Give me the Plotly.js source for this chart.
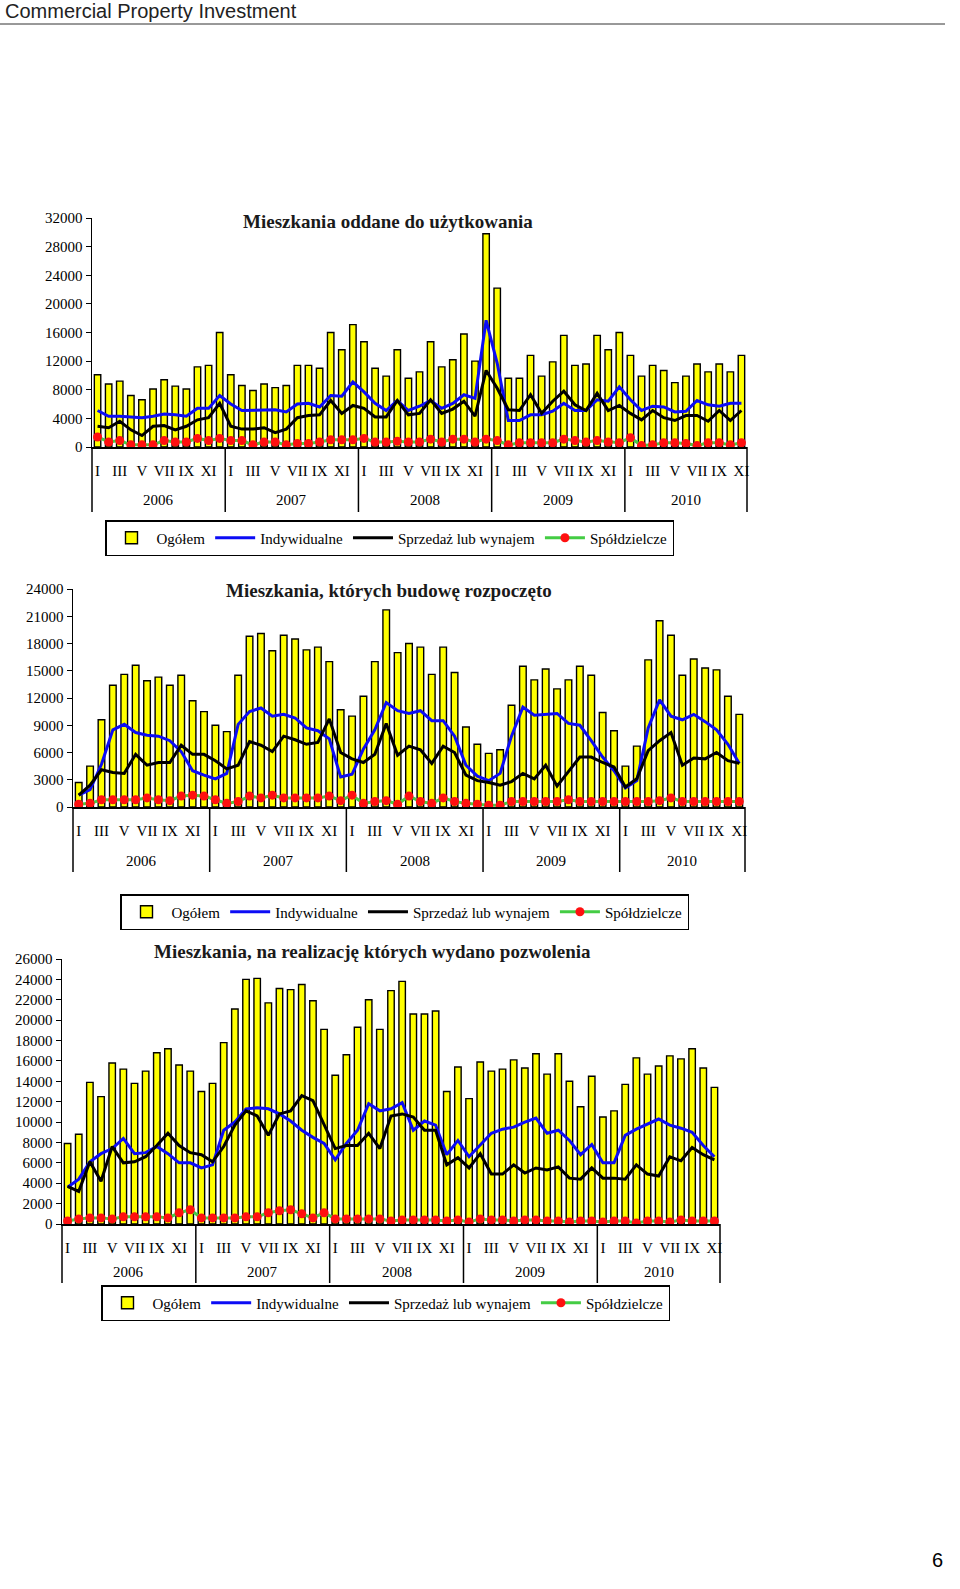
<!DOCTYPE html>
<html><head><meta charset="utf-8">
<script src="https://cdn.plot.ly/plotly-3.0.1.min.js"></script>
<style>html,body{margin:0;padding:0;background:#fff}#chart{width:960px;height:1589px}</style>
</head><body><div id="chart"></div>
<script>
// ---------- DATA ----------
const years = ['2006', '2007', '2008', '2009', '2010'];
const monthsPerYear = [12, 12, 12, 12, 11];
const romanMonths = ['I','II','III','IV','V','VI','VII','VIII','IX','X','XI','XII'];
const seriesNames = ['Ogółem', 'Indywidualne', 'Sprzedaż lub wynajem', 'Spółdzielcze'];
const pageHeader = 'Commercial Property Investment';
const pageNumber = '6';

// Chart 1: Mieszkania oddane do użytkowania
const title1 = 'Mieszkania oddane do użytkowania';
const ogolem1 = [10100, 8800, 9200, 7200, 6600, 8100, 9400, 8500, 8100, 11200, 11400, 16000,
  10100, 8600, 7900, 8800, 8300, 8600, 11400, 11400, 11000, 16000, 13600, 17100,
  14700, 11000, 9900, 13600, 9600, 10500, 14700, 11200, 12200, 15800, 12000, 29800,
  22200, 9600, 9600, 12800, 9900, 11900, 15600, 11400, 11600, 15600, 13600, 16000,
  12800, 9900, 11400, 10700, 9000, 9900, 11600, 10500, 11600, 10500, 12800];
const indyw1 = [5100, 4300, 4300, 4200, 4100, 4300, 4600, 4500, 4300, 5400, 5400, 7200,
  6000, 5100, 5100, 5100, 5200, 4900, 6000, 6100, 5600, 7200, 7100, 9100,
  7700, 6100, 5100, 6500, 5100, 5700, 6500, 5400, 6100, 7300, 6800, 17700,
  11700, 3700, 3700, 4500, 4500, 5000, 6100, 5100, 5100, 6600, 6400, 8400,
  6600, 5100, 5700, 5600, 4900, 5000, 6500, 5900, 5700, 6100, 6100];
const sprzed1 = [2900, 2700, 3600, 2400, 1600, 2900, 3000, 2400, 2900, 3800, 4100, 6100,
  2900, 2500, 2500, 2700, 2000, 2500, 4100, 4400, 4500, 6500, 4700, 5800,
  5400, 4200, 4200, 6500, 4500, 4700, 6600, 4700, 5300, 6400, 4300, 10700,
  8200, 5200, 5100, 7300, 4700, 6400, 7800, 5900, 5100, 7500, 5100, 5800,
  4700, 3800, 5100, 4100, 3700, 4400, 4400, 3600, 5100, 3700, 5100];
const spold1 = [1400, 700, 900, 300, 300, 300, 900, 700, 700, 1200, 900, 1200,
  900, 900, 300, 700, 700, 300, 500, 500, 700, 1000, 1000, 1000,
  1200, 700, 700, 800, 700, 700, 1100, 700, 1100, 1100, 700, 1100,
  900, 300, 600, 600, 600, 600, 1100, 900, 700, 900, 700, 600,
  1300, 200, 300, 600, 600, 500, 200, 600, 600, 300, 600];

// Chart 2: Mieszkania, których budowę rozpoczęto
const title2 = 'Mieszkania, których budowę rozpoczęto';
const ogolem2 = [2700, 4500, 9600, 13400, 14600, 15600, 13900, 14300, 13400, 14500, 11700, 10500,
  9000, 8300, 14500, 18800, 19100, 17200, 18900, 18500, 17300, 17600, 16000, 10700,
  10000, 12200, 16000, 21700, 17000, 18000, 17600, 14600, 17600, 14800, 8800, 6900,
  5900, 6300, 11200, 15500, 14000, 15200, 13000, 14000, 15500, 14500, 10400, 8400,
  4500, 6700, 16200, 20500, 18900, 14500, 16300, 15300, 15100, 12200, 10200];
const indyw2 = [1300, 1900, 4700, 8500, 9100, 8200, 7900, 7800, 7300, 6100, 4000, 3500,
  3100, 3700, 9100, 10500, 10900, 10000, 10200, 9800, 8700, 8400, 7500, 3300,
  3600, 6400, 8500, 11500, 10600, 10300, 10600, 9500, 9500, 7800, 4600, 3400,
  2900, 3700, 7800, 11000, 10100, 10200, 10300, 9200, 9000, 7300, 5500, 4000,
  2100, 2900, 8700, 11800, 10000, 9600, 10200, 9400, 8500, 6900, 4800];
const sprzed2 = [1300, 2400, 4100, 3800, 3700, 5800, 4600, 4900, 4900, 6800, 5800, 5800,
  5100, 4200, 4600, 7200, 6800, 6100, 7800, 7400, 6900, 7100, 9700, 6000,
  5300, 4900, 5800, 9200, 5700, 6700, 6300, 4800, 6700, 6000, 3500, 2900,
  2700, 2400, 2800, 3700, 3100, 4600, 2300, 3900, 5500, 5500, 4900, 4400,
  2200, 3100, 6200, 7300, 8200, 4600, 5400, 5300, 6000, 5100, 4800];
const spold2 = [300, 400, 800, 800, 800, 800, 1000, 800, 700, 1200, 1300, 1200,
  800, 400, 600, 1200, 1000, 1300, 1000, 1000, 1000, 1000, 1200, 700,
  1300, 400, 600, 700, 300, 1200, 600, 400, 1000, 600, 400, 300,
  200, 200, 600, 600, 600, 600, 600, 800, 600, 600, 600, 600,
  600, 600, 600, 700, 1000, 600, 600, 600, 600, 600, 600];

// Chart 3: Mieszkania, na realizację których wydano pozwolenia
const title3 = 'Mieszkania, na realizację których wydano pozwolenia';
const ogolem3 = [7900, 8800, 13900, 12500, 15800, 15200, 13800, 15000, 16800, 17200, 15600, 15000,
  13000, 13800, 17800, 21100, 24000, 24100, 21700, 23100, 23000, 23500, 21900, 19100,
  14600, 16600, 19300, 22000, 19100, 22900, 23800, 20600, 20600, 20900, 13000, 15400,
  12300, 15900, 15000, 15200, 16100, 15300, 16700, 14700, 16700, 14000, 11500, 14500,
  10500, 11100, 13700, 16300, 14700, 15500, 16500, 16200, 17200, 15300, 13400];
const indyw3 = [3600, 4400, 6100, 6900, 7400, 8400, 6900, 7000, 7600, 6900, 6000, 6000,
  5500, 5800, 9200, 10000, 11300, 11400, 11300, 10800, 10100, 9200, 8500, 7900,
  6300, 7900, 9200, 11800, 11100, 11300, 11900, 9200, 10100, 9700, 6800, 8200,
  6600, 7700, 8900, 9300, 9500, 10000, 10400, 8900, 9200, 8200, 6800, 7800,
  6000, 6000, 8700, 9300, 9800, 10300, 9700, 9400, 9000, 7700, 6600];
const sprzed3 = [3700, 3200, 6100, 4200, 7600, 6000, 6100, 6600, 7700, 8900, 7700, 7000,
  6800, 6100, 7600, 9700, 11100, 10600, 8700, 10800, 11100, 12600, 12100, 9800,
  7400, 7700, 7700, 8900, 7400, 10600, 10800, 10500, 9200, 9200, 5800, 6500,
  5500, 6900, 4900, 4900, 5800, 5000, 5500, 5300, 5600, 4500, 4400, 5500,
  4500, 4500, 4400, 5800, 4900, 4700, 6600, 6200, 7500, 6800, 6300];
const spold3 = [300, 500, 600, 600, 500, 700, 700, 700, 700, 600, 1100, 1400,
  600, 600, 600, 600, 700, 700, 1100, 1300, 1400, 1000, 600, 1100,
  500, 500, 500, 500, 500, 300, 400, 400, 400, 400, 300, 400,
  200, 500, 400, 400, 300, 400, 400, 300, 300, 200, 300, 300,
  200, 300, 300, 100, 300, 300, 200, 400, 300, 300, 300];

// ---------- BUILD ----------
const PW = 960, PH = 1589;
const px = v => v / PW;          // pixel -> paper x
const py = v => 1 - v / PH;      // pixel -> paper y

const monthIdx = [], monthName = [];
monthsPerYear.forEach((n) => { for (let m = 0; m < n; m++) { monthIdx.push(monthIdx.length); monthName.push(romanMonths[m]); } });
const N = monthIdx.length;
const tickVals = monthIdx.filter((i) => romanMonths.indexOf(monthName[i]) % 2 === 0);
const tickText = tickVals.map((i) => monthName[i]);

const charts = [
  { title: title1, vals: [ogolem1, indyw1, sprzed1, spold1], ymax: 32000, dtick: 4000,
    x0: 92, x1: 747, yTop: 218, yBot: 447, titleX: 388, titleY: 221, yearY: 500, divBot: 512, legX: 105, legY: 520 },
  { title: title2, vals: [ogolem2, indyw2, sprzed2, spold2], ymax: 24000, dtick: 3000,
    x0: 73, x1: 745, yTop: 589, yBot: 807, titleX: 389, titleY: 590, yearY: 861, divBot: 872, legX: 120, legY: 894 },
  { title: title3, vals: [ogolem3, indyw3, sprzed3, spold3], ymax: 26000, dtick: 2000,
    x0: 62, x1: 720, yTop: 959, yBot: 1224, titleX: 372, titleY: 951, yearY: 1272, divBot: 1283, legX: 101, legY: 1285 }
];

const serif = 'Liberation Serif, Times New Roman, serif';
const traces = [];
const layout = {
  width: PW, height: PH, margin: { l: 0, r: 0, t: 0, b: 0 },
  paper_bgcolor: '#fff', plot_bgcolor: '#fff', showlegend: true,
  annotations: [], shapes: []
};

charts.forEach((c, k) => {
  const n = k + 1;
  const xa = 'x' + (n === 1 ? '' : n), ya = 'y' + (n === 1 ? '' : n);
  const lg = 'legend' + (n === 1 ? '' : n);
  traces.push({ type: 'bar', x: monthIdx, y: c.vals[0], name: seriesNames[0], xaxis: xa, yaxis: ya, legend: lg,
    width: 0.58, marker: { color: '#ffff00', line: { color: '#000', width: 1.4 } } });
  traces.push({ type: 'scatter', mode: 'lines', x: monthIdx, y: c.vals[1], name: seriesNames[1], xaxis: xa, yaxis: ya, legend: lg,
    line: { color: '#0c0cf5', width: 3 } });
  traces.push({ type: 'scatter', mode: 'lines', x: monthIdx, y: c.vals[2], name: seriesNames[2], xaxis: xa, yaxis: ya, legend: lg,
    line: { color: '#000', width: 3 } });
  traces.push({ type: 'scatter', mode: 'lines+markers', x: monthIdx, y: c.vals[3], name: seriesNames[3], xaxis: xa, yaxis: ya, legend: lg,
    line: { color: '#44cc44', width: 3 }, marker: { color: '#ff1010', size: 9 } });

  layout['xaxis' + (n === 1 ? '' : n)] = {
    domain: [px(c.x0), px(c.x1)], anchor: ya, range: [-0.5, N - 0.5], fixedrange: true,
    showgrid: false, zeroline: false, showline: true, linecolor: '#000', linewidth: 1.5,
    tickmode: 'array', tickvals: tickVals, ticktext: tickText, ticks: '', ticklabelstandoff: 9,
    tickfont: { family: serif, size: 15, color: '#000' }
  };
  layout['yaxis' + (n === 1 ? '' : n)] = {
    domain: [py(c.yBot), py(c.yTop)], anchor: xa, range: [0, c.ymax], dtick: c.dtick, tick0: 0, fixedrange: true,
    showgrid: false, zeroline: false, showline: true, linecolor: '#000', linewidth: 1.5,
    ticks: 'outside', ticklen: 5, tickcolor: '#000', tickformat: 'd',
    tickfont: { family: serif, size: 15, color: '#000' }
  };
  layout[lg] = {
    x: px(c.legX), y: py(c.legY), xanchor: 'left', yanchor: 'top', orientation: 'h',
    bordercolor: '#000', borderwidth: 1.5, bgcolor: '#fff', itemwidth: 40,
    font: { family: serif, size: 15, color: '#000' }, tracegroupgap: 0, traceorder: 'normal'
  };
  // chart title
  layout.annotations.push({ text: '<b>' + c.title + '</b>', xref: 'paper', yref: 'paper',
    x: px(c.titleX), y: py(c.titleY), xanchor: 'center', yanchor: 'middle', showarrow: false,
    font: { family: serif, size: 19, color: '#1a1a1a' } });
  // year labels and group dividers
  let start = 0;
  const toPaperX = (v) => px(c.x0 + (v + 0.5) / N * (c.x1 - c.x0));
  const bounds = [-0.5];
  monthsPerYear.forEach((cnt, j) => {
    layout.annotations.push({ text: years[j], xref: xa, yref: 'paper', x: start + (cnt - 1) / 2, y: py(c.yearY),
      xanchor: 'center', yanchor: 'middle', showarrow: false, font: { family: serif, size: 15, color: '#000' } });
    start += cnt;
    bounds.push(start - 0.5);
  });
  bounds.forEach((b) => {
    layout.shapes.push({ type: 'line', xref: 'paper', yref: 'paper', x0: toPaperX(b), x1: toPaperX(b),
      y0: py(c.yBot), y1: py(c.divBot), line: { color: '#000', width: 1.5 } });
  });
});

// page header and footer
layout.annotations.push({ text: pageHeader, xref: 'paper', yref: 'paper', x: px(3), y: py(11), xanchor: 'left', yanchor: 'middle',
  showarrow: false, font: { family: 'Liberation Sans, Arial, sans-serif', size: 20, color: '#222' } });
layout.annotations.push({ text: pageNumber, xref: 'paper', yref: 'paper', x: px(945), y: py(1560), xanchor: 'right', yanchor: 'middle',
  showarrow: false, font: { family: 'Liberation Sans, Arial, sans-serif', size: 20, color: '#000' } });
layout.shapes.push({ type: 'line', xref: 'paper', yref: 'paper', x0: 0, x1: px(945), y0: py(24), y1: py(24),
  line: { color: '#333', width: 1 } });

Plotly.newPlot('chart', traces, layout, { displayModeBar: false, staticPlot: true });
</script>
</body></html>
